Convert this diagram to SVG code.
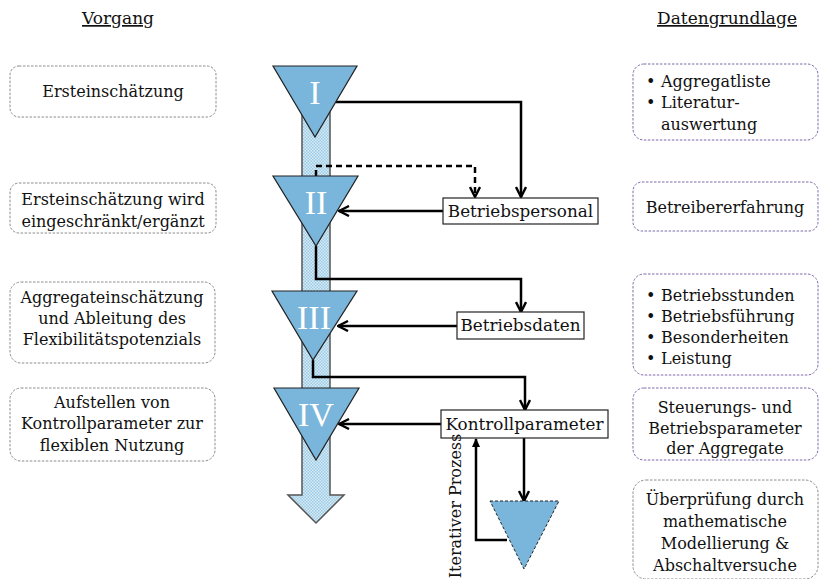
<svg xmlns="http://www.w3.org/2000/svg" width="820" height="579" viewBox="0 0 820 579">
<style>
  .t { font-family: "DejaVu Serif", "Liberation Serif", serif; font-size: 16px; fill: #111; }
  .m { font-size: 16.8px; }
  .c { text-anchor: middle; }
  .h { font-family: "DejaVu Serif", "Liberation Serif", serif; font-size: 17px; fill: #111; text-anchor: middle; text-decoration: underline; }
  .rn { font-family: "Liberation Serif", "Times New Roman", serif; font-size: 34px; fill: #fff; text-anchor: middle; }
  .lbox { fill: #fff; stroke: #8c8c8c; stroke-width: 1; stroke-dasharray: 2.5 1.5; }
  .rbox { fill: #fff; stroke: #7f6aa8; stroke-width: 1; stroke-dasharray: 2.5 1.5; }
  .gbox { fill: #fff; stroke: #8c8c8c; stroke-width: 1; stroke-dasharray: 2.5 1.5; }
  .tri { fill: #7ab6dc; stroke: #222; stroke-width: 1.2; }
  .box { fill: #fff; stroke: #222; stroke-width: 1.2; }
  .con { fill: none; stroke: #000; stroke-width: 2.5; }
</style>
<defs>
  <pattern id="hatch" width="3" height="3" patternUnits="userSpaceOnUse">
    <rect width="3" height="3" fill="#d8ecf7"/>
    <rect width="1.5" height="1.5" fill="#9ccbe6"/>
    <rect x="1.5" y="1.5" width="1.5" height="1.5" fill="#9ccbe6"/>
  </pattern>
  <marker id="ah" viewBox="0 0 12 12" refX="11" refY="6" markerWidth="12" markerHeight="12" markerUnits="userSpaceOnUse" orient="auto">
    <path d="M1,1 L11,6 L1,11" fill="none" stroke="#000" stroke-width="2.4"/>
  </marker>
  <marker id="ahs" viewBox="0 0 10 10" refX="9" refY="5" markerWidth="9" markerHeight="9" markerUnits="userSpaceOnUse" orient="auto">
    <path d="M0,0.5 L10,5 L0,9.5 Z" fill="#000"/>
  </marker>
</defs>

<!-- headers -->
<text class="h" x="118" y="24">Vorgang</text>
<text class="h" x="727" y="24" font-size="19">Datengrundlage</text>

<!-- main shaft arrow -->
<g id="shaft">
  <path d="M302,70 L330,70 L330,495 L344,495 L316,523 L288,495 L302,495 Z" fill="url(#hatch)" stroke="#555" stroke-width="1.5"/>
</g>

<!-- connectors -->
<g id="connectors">
  <path class="con" d="M336,102 L521,102 L521,197" marker-end="url(#ah)"/>
  <path class="con" d="M316,176 L316,166 L475,166 L475,197" stroke-dasharray="6 4" marker-end="url(#ah)"/>
  <path class="con" d="M443,211 L339,211" marker-end="url(#ah)"/>
  <path class="con" d="M316,246 L316,279 L521,279 L521,312" marker-end="url(#ah)"/>
  <path class="con" d="M457,326 L338,326" marker-end="url(#ah)"/>
  <path class="con" d="M313,360 L313,377 L525,377 L525,410" marker-end="url(#ah)"/>
  <path class="con" d="M441,424 L339,424" marker-end="url(#ah)"/>
  <path class="con" d="M524,438 L524,501" marker-end="url(#ah)"/>
  <path class="con" d="M507,540 L476,540 L476,439" marker-end="url(#ahs)"/>
</g>

<!-- phase triangles -->
<g id="phase-I">
  <polygon class="tri" points="273,66 357,66 315,137"/>
  <text class="rn" x="315" y="104">I</text>
</g>
<g id="phase-II">
  <polygon class="tri" points="273,176 358,176 316,246"/>
  <text class="rn" x="316" y="214">II</text>
</g>
<g id="phase-III">
  <polygon class="tri" points="272,291 357,291 313,360"/>
  <text class="rn" x="314" y="329">III</text>
</g>
<g id="phase-IV">
  <polygon class="tri" points="274,388 359,388 316,460"/>
  <text class="rn" x="316" y="426">IV</text>
</g>
<g id="iter-triangle">
  <polygon points="490,501 559,501 524,569" fill="#7ab6dc" stroke="#222" stroke-width="1" stroke-dasharray="3 2"/>
</g>

<!-- middle boxes -->
<g id="betriebspersonal">
  <rect class="box" x="443" y="198" width="155" height="26"/>
  <text class="t m c" x="520.5" y="217">Betriebspersonal</text>
</g>
<g id="betriebsdaten">
  <rect class="box" x="457" y="312" width="127" height="27"/>
  <text class="t m c" x="520.5" y="331">Betriebsdaten</text>
</g>
<g id="kontrollparameter">
  <rect class="box" x="441" y="410" width="167" height="28"/>
  <text class="t m c" x="524.5" y="430">Kontrollparameter</text>
</g>
<g id="iterativ-label">
  <text class="t c" font-size="14.5" transform="translate(461,506) rotate(-90)">Iterativer Prozess</text>
</g>

<!-- left column -->
<g id="v1">
  <rect class="lbox" x="10" y="66" width="206" height="51" rx="9"/>
  <text class="t c" x="113" y="97">Ersteinschätzung</text>
</g>
<g id="v2">
  <rect class="lbox" x="10" y="183" width="206" height="50" rx="9"/>
  <text class="t c" x="113" y="205">Ersteinschätzung wird</text>
  <text class="t c" x="113" y="227">eingeschränkt/ergänzt</text>
</g>
<g id="v3">
  <rect class="lbox" x="10" y="282" width="205" height="81" rx="11"/>
  <text class="t c" x="112" y="303">Aggregateinschätzung</text>
  <text class="t c" x="112" y="324">und Ableitung des</text>
  <text class="t c" x="112" y="345">Flexibilitätspotenzials</text>
</g>
<g id="v4">
  <rect class="lbox" x="10" y="388" width="205" height="73" rx="11"/>
  <text class="t c" x="112" y="408">Aufstellen von</text>
  <text class="t c" x="112" y="429">Kontrollparameter zur</text>
  <text class="t c" x="112" y="451">flexiblen Nutzung</text>
</g>

<!-- right column -->
<g id="d1">
  <rect class="rbox" x="633" y="64" width="185" height="76" rx="11"/>
  <text class="t" x="646" y="87">•</text><text class="t" x="661" y="87">Aggregatliste</text>
  <text class="t" x="646" y="108">•</text><text class="t" x="661" y="108">Literatur-</text>
  <text class="t" x="661" y="130">auswertung</text>
</g>
<g id="d2">
  <rect class="rbox" x="633" y="182" width="185" height="49" rx="9"/>
  <text class="t c" x="725" y="213">Betreibererfahrung</text>
</g>
<g id="d3">
  <rect class="rbox" x="633" y="274" width="185" height="101" rx="11"/>
  <text class="t" x="646" y="301">•</text><text class="t" x="661" y="301">Betriebsstunden</text>
  <text class="t" x="646" y="322">•</text><text class="t" x="661" y="322">Betriebsführung</text>
  <text class="t" x="646" y="343">•</text><text class="t" x="661" y="343">Besonderheiten</text>
  <text class="t" x="646" y="364">•</text><text class="t" x="661" y="364">Leistung</text>
</g>
<g id="d4">
  <rect class="rbox" x="633" y="388" width="185" height="72" rx="11"/>
  <text class="t c" x="725" y="413">Steuerungs- und</text>
  <text class="t c" x="725" y="434">Betriebsparameter</text>
  <text class="t c" x="725" y="454">der Aggregate</text>
</g>
<g id="d5">
  <rect class="gbox" x="633" y="480" width="185" height="99" rx="13"/>
  <text class="t c" x="725" y="505">Überprüfung durch</text>
  <text class="t c" x="725" y="527">mathematische</text>
  <text class="t c" x="725" y="549">Modellierung &amp;</text>
  <text class="t c" x="725" y="571">Abschaltversuche</text>
</g>
</svg>
